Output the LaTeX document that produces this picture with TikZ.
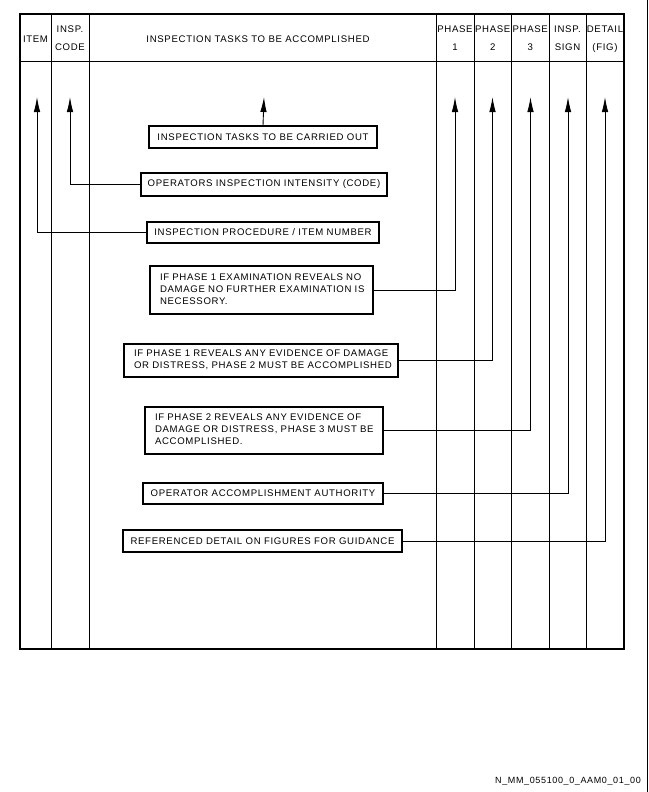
\documentclass[tikz,border=0pt]{standalone}
\usepackage{fontspec}
\usetikzlibrary{arrows.meta}
\newfontfamily\hvfont[LetterSpace=7]{Liberation Sans}
\newcommand{\lines}[1]{\begin{tabular}{@{}l@{}}#1\end{tabular}}
\newcommand{\clines}[1]{\begin{tabular}{@{}c@{}}#1\end{tabular}}
\begin{document}
\begin{tikzpicture}[x=1pt,y=-1pt,
  every node/.style={font=\hvfont\fontsize{9.6}{12}\selectfont, inner sep=0pt},
  frame/.style={line width=1.9pt},
  colline/.style={line width=1pt},
  tbox/.style={draw, line width=1.2pt, align=center},
  lbox/.style={draw, line width=1.2pt, align=left, inner xsep=10pt},
  conn/.style={line width=0.9pt},
  tip/.style={-{Latex[length=15pt,width=6.5pt]}}
]
\useasboundingbox (0,0) rectangle (648,792);
% right image edge line
\draw[line width=0.9pt] (647,0) -- (647,792);
% frame and columns
\draw[frame] (20,14) rectangle (624,649);
\draw[colline] (20,62) -- (624,62);
\foreach \xx in {51,89,436,474,511.5,549,586}{\draw[colline] (\xx,14) -- (\xx,649);}
% header
\node (hItem) at (35.5,39) {ITEM};
\node (hCode) at (70,39) {\clines{INSP.\\[6pt]CODE}};
\node (hTask) at (258,39) {INSPECTION TASKS TO BE ACCOMPLISHED};
\node (hP1) at (455,39) {\clines{PHASE\\[6pt]1}};
\node (hP2) at (492.75,39) {\clines{PHASE\\[6pt]2}};
\node (hP3) at (530.25,39) {\clines{PHASE\\[6pt]3}};
\node (hSign) at (567.5,39) {\clines{INSP.\\[6pt]SIGN}};
\node (hDet) at (605,39) {\clines{DETAIL\\[6pt](FIG)}};
% arrow tips
\coordinate (tItem) at (37,97);
\coordinate (tCode) at (70,97);
\coordinate (tTask) at (264,97);
\coordinate (tP1) at (455,97);
\coordinate (tP2) at (492.5,97);
\coordinate (tP3) at (530.5,97);
\coordinate (tSign) at (568,97);
\coordinate (tDet) at (605,97);
% boxes
\node[tbox, minimum width=228pt, minimum height=22pt] (b1) at (263,137) {INSPECTION TASKS TO BE CARRIED OUT};
\node[tbox, minimum width=246pt, minimum height=23pt] (b2) at (264,184.5) {OPERATORS INSPECTION INTENSITY (CODE)};
\node[tbox, minimum width=232pt, minimum height=21pt] (b3) at (263,232.5) {INSPECTION PROCEDURE / ITEM NUMBER};
\node[lbox, text width=203pt, minimum height=48pt] (b4) at (261.5,290) {\lines{IF PHASE 1 EXAMINATION REVEALS NO\\DAMAGE NO FURTHER EXAMINATION IS\\NECESSORY.}};
\node[lbox, text width=254pt, minimum height=33pt] (b5) at (261,360.5) {\lines{IF PHASE 1 REVEALS ANY EVIDENCE OF DAMAGE\\OR DISTRESS, PHASE 2 MUST BE ACCOMPLISHED}};
\node[lbox, text width=218pt, minimum height=47pt] (b6) at (264,430.5) {\lines{IF PHASE 2 REVEALS ANY EVIDENCE OF\\DAMAGE OR DISTRESS, PHASE 3 MUST BE\\ACCOMPLISHED.}};
\node[tbox, minimum width=240pt, minimum height=21pt] (b7) at (263,493.5) {OPERATOR ACCOMPLISHMENT AUTHORITY};
\node[tbox, minimum width=279pt, minimum height=22pt] (b8) at (262.5,541) {REFERENCED DETAIL ON FIGURES FOR GUIDANCE};
% connectors
\draw[conn,tip] (b1.north) -- (tTask);
\draw[conn,tip] (b2.west) -| (tCode);
\draw[conn,tip] (b3.west) -| (tItem);
\draw[conn,tip] (b4.east) -| (tP1);
\draw[conn,tip] (b5.east) -| (tP2);
\draw[conn,tip] (b6.east) -| (tP3);
\draw[conn,tip] (b7.east) -| (tSign);
\draw[conn,tip] (b8.east) -| (tDet);
% footer
\node[anchor=east, font=\hvfont\fontsize{9}{10}\selectfont] (foot) at (641,781) {N\_MM\_055100\_0\_AAM0\_01\_00};
\end{tikzpicture}
\end{document}
